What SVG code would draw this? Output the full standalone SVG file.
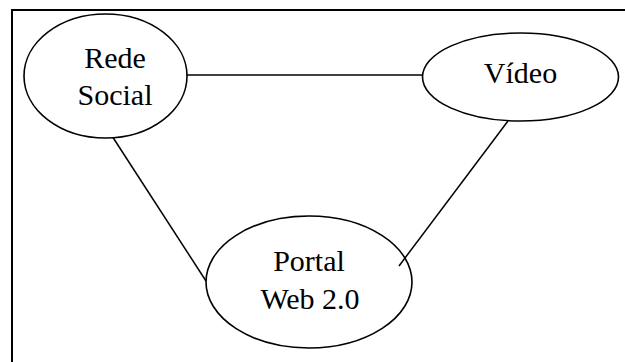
<svg xmlns="http://www.w3.org/2000/svg" width="625" height="362" viewBox="0 0 625 362">
<style>
.n{fill:#fff;stroke:#000;stroke-width:1.6}
.c{stroke:#000;stroke-width:1.5;fill:none}
.t{font-family:"Liberation Serif","Times New Roman",serif;font-size:30px;fill:#000;text-anchor:middle}
</style>
<rect width="625" height="362" fill="#fff"/>
<path d="M12 362 V10 H626" fill="none" stroke="#000" stroke-width="2"/>
<g id="rede-social">
<ellipse class="n" cx="105.5" cy="76" rx="81.5" ry="62"/>
<text class="t" x="115" y="68">Rede</text>
<text class="t" x="115" y="105">Social</text>
</g>
<g id="video">
<ellipse class="n" cx="520.5" cy="77" rx="98" ry="44"/>
<text class="t" x="520.5" y="83">Vídeo</text>
</g>
<g id="portal">
<ellipse class="n" cx="309" cy="282" rx="103" ry="66"/>
<text class="t" x="309" y="271">Portal</text>
<text class="t" x="310" y="309">Web 2.0</text>
</g>
<g id="connectors">
<line class="c" x1="187" y1="75" x2="422.5" y2="75"/>
<line class="c" x1="113" y1="137.5" x2="206" y2="281"/>
<line class="c" x1="508" y1="121" x2="399" y2="266"/>
</g>
</svg>
